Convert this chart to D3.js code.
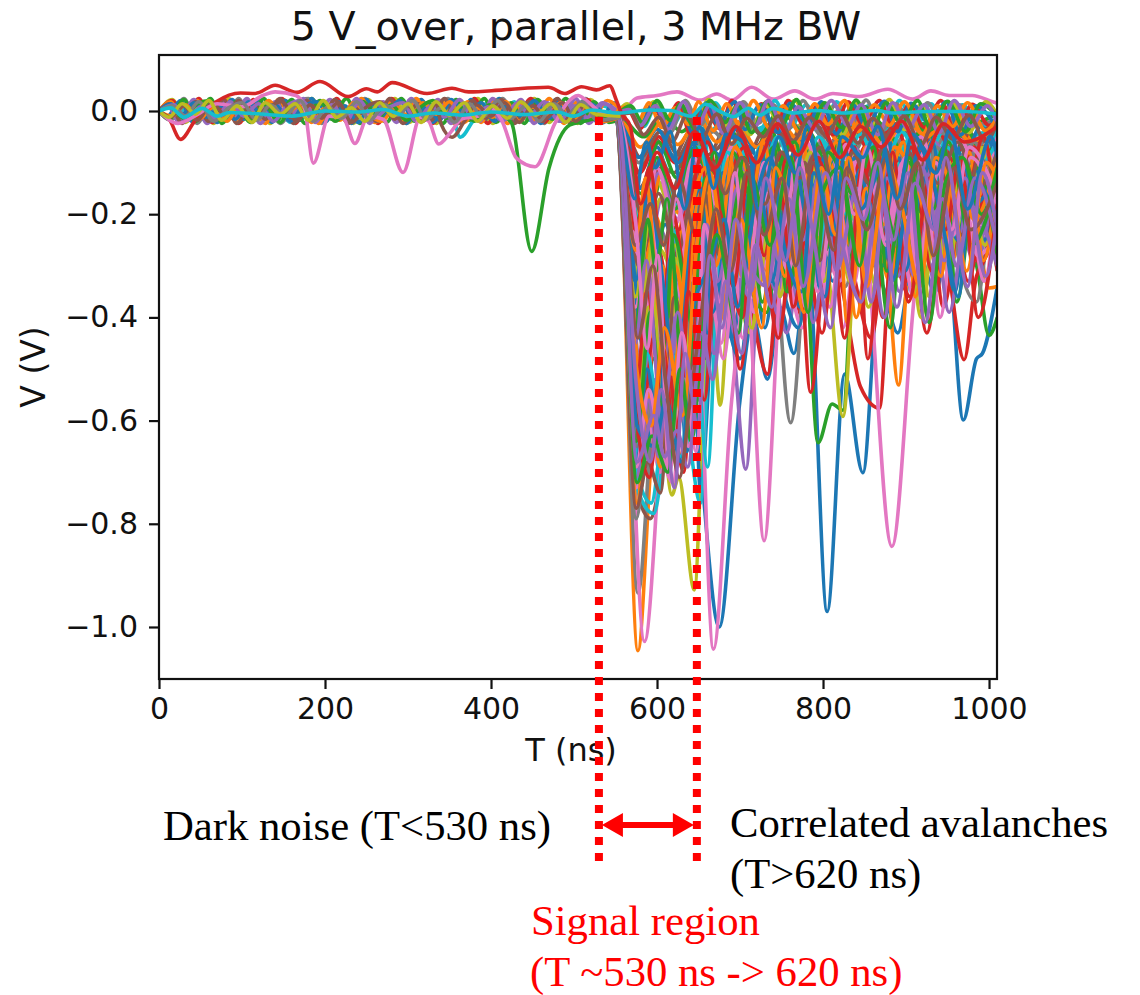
<!DOCTYPE html>
<html><head><meta charset="utf-8">
<script src="https://cdn.jsdelivr.net/npm/d3@7"></script>
<style>html,body{margin:0;background:#fff}svg{display:block}</style></head>
<body><div id="chart"></div>
<script>
// Every trace is a flat list of read-off turning points: T (ns), V (mV)
const xTicks=[0,200,400,600,800,1000];
const yTicks=[0,-0.2,-0.4,-0.6,-0.8,-1.0];
const markers=[530,648];

const blue=[
[0,0,14,14,28,-6,42,16,58,-12,74,10,92,-16,108,18,124,-8,140,12,158,-20,172,6,190,18,206,-14,224,10,240,-22,256,14,272,-6,290,20,306,-12,322,8,338,-18,352,22,370,-8,388,16,404,-20,420,12,436,-10,452,20,470,-14,488,10,504,-22,520,14,540,-10,556,-14],
[545,-8,552,-15,580,-600,598,-430,614,-705,632,-360,650,-640,675,-1000,700,-560,716,-400,733,-520,748,-380,765,-470,782,-300,805,-970,826,-510,848,-701,868,-330,890,-430,912,-260,935,-350,950,-280,969,-599,985,-480,992,-470,1010,-340],
[545,-6,552,-12,577,-720,600,-520,622,-350,636,-660,645,-500,652,-730,672,-330,690,-440,712,-260,730,-420,750,-210,772,-380,790,-180,812,-330,835,-150,855,-300,880,-130,905,-340,925,-180,948,-280,975,-120,995,-250,1010,-150],
[545,-9,554,-14,582,-380,605,-240,628,-330,650,-130,668,-260,690,-110,708,-300,728,-150,745,-280,768,-100,790,-240,815,-90,838,-280,860,-120,880,-210,905,-80,928,-230,950,-100,972,-200,990,-70,1010,-160],
[545,-7,556,-12,580,-150,600,-70,622,-170,645,-60,665,-190,690,-50,712,-160,735,-60,755,-170,780,-40,802,-130,825,-50,850,-170,875,-40,895,-120,920,-40,945,-140,970,-30,990,-130,1010,-60],
[545,-8,554,-10,584,-460,610,-220,632,-400,655,-200,676,-340,700,-480,722,-190,745,-310,770,-420,795,-170,820,-290,845,-120,868,-260,892,-90,915,-280,940,-110,962,-250,985,-90,1010,-220],
[545,-5,554,-10,578,-90,600,-35,625,-100,650,-30,675,-85,700,-25,722,-90,745,-25,770,-80,795,-20,820,-95,845,-30,870,-75,895,-20,920,-85,945,-25,970,-90,990,-30,1010,-100],
[0,0,10,-10,26,20,40,-20,56,18,70,-22,88,22,102,-16,120,22,136,-22,152,20,170,-18,184,24,200,-22,216,18,232,-24,250,22,264,-20,282,16,298,-24,316,22,330,-22,346,18,360,-24,376,22,392,-16,410,24,426,-22,444,16,460,-24,478,22,494,-20,512,20,530,-24,548,16,562,-16],
[552,-4,566,6,582,-22,596,14,612,-30,630,10,642,-40,660,16,674,-28,694,18,706,-36,724,12,746,-42,760,15,782,-25,798,18,816,-44,836,12,852,-30,874,19,890,-40,906,15,930,-28,948,18,966,-46,984,10,1010,-35],
[546,-6,551,-14,575,-690,588,-500,601,-610,617,-280,627,-410,646,-170,661,-430,679,-120,699,-210,726,-70,738,-330,762,-110,783,-160,809,-70,821,-230,847,-110,872,-300,889,-90,917,-190,931,-60,959,-350,977,-100,1010,-260],
[546,-5,551,-12,574,-330,590,-150,603,-280,624,-520,640,-220,652,-150,667,-390,693,-130,709,-220,718,-90,743,-340,765,-80,777,-190,802,-360,818,-130,843,-90,859,-220,878,-60,899,-310,922,-130,938,-240,966,-70,982,-180,1010,-120],
[546,-6,552,-11,576,-610,597,-650,611,-560,629,-680,643,-390,663,-300,681,-210,697,-380,719,-170,737,-90,753,-260,774,-350,789,-120,811,-240,827,-80,846,-190,871,-110,883,-330,906,-120,919,-70,944,-220,963,-360,979,-130,1010,-210],
[546,-7,553,-12,573,-170,587,-60,598,-110,616,-40,633,-190,651,-30,668,-150,683,-45,710,-70,722,-190,747,-50,767,-120,781,-30,807,-200,823,-50,848,-90,866,-30,889,-170,908,-45,936,-120,953,-35,974,-190,1002,-50,1010,-90]
];
const orange=[
[0,0,16,-10,32,12,48,-16,66,8,82,-20,98,14,116,-6,132,20,150,-12,168,10,184,-22,200,6,218,-18,234,16,250,-4,268,-20,286,8,302,-14,318,16,334,-6,350,18,368,-22,384,6,402,-12,418,18,434,-20,450,8,468,-8,484,16,500,-18,518,6,536,-20,556,-12],
[545,-10,552,-16,577,-1046,592,-700,604,-480,618,-610,632,-300,650,-430,670,-220,690,-340,712,-150,735,-300,760,-120,780,-250,805,-100,825,-190,850,-80,875,-250,891,-531,905,-240,930,-130,955,-290,978,-160,1000,-343,1010,-340],
[545,-6,552,-10,580,-680,598,-420,616,-620,636,-240,655,-360,675,-140,697,-260,718,-100,742,-230,765,-90,788,-215,810,-60,835,-190,858,-60,880,-170,905,-50,928,-200,952,-60,975,-160,1000,-30,1010,-70],
[545,-8,554,-14,578,-420,596,-200,620,-300,640,-110,664,-210,686,-70,708,-180,730,-60,752,-150,775,-70,800,-230,820,-100,840,-400,860,-200,880,-330,900,-120,925,-260,950,-100,970,-210,990,-70,1010,-200],
[545,-7,556,-10,584,-240,606,-120,628,-200,648,-70,670,-170,692,-60,718,-220,740,-70,762,-190,785,-50,810,-140,832,-60,855,-150,880,-50,905,-130,925,-40,950,-110,975,-50,1000,-150,1010,-120],
[545,-8,552,-12,582,-530,606,-300,630,-480,650,-260,675,-410,698,-200,720,-350,745,-170,768,-300,790,-130,812,-270,835,-90,860,-250,885,-80,908,-190,930,-60,955,-200,980,-70,1010,-190],
[545,-5,554,-8,580,-70,604,-25,625,-65,650,-15,672,-60,696,-20,720,-70,745,-15,770,-55,795,-10,820,-60,848,-15,872,-65,900,-20,925,-50,950,-12,978,-60,1010,-25],
[0,0,14,18,28,-20,46,20,60,-16,78,24,94,-22,110,14,128,-24,144,22,160,-14,178,20,192,-24,210,18,226,-20,244,24,260,-22,276,16,292,-20,310,24,324,-16,340,20,356,-24,372,18,388,-22,404,22,420,-24,438,14,454,-20,470,24,488,-24,504,18,522,-16,540,20,562,-14],
[550,-3,562,8,578,-18,590,16,606,-32,622,6,638,-26,650,18,668,-38,684,14,700,-30,716,20,736,-34,752,10,772,-42,790,14,806,-26,826,20,842,-40,862,12,880,-28,898,18,920,-44,938,10,956,-30,974,16,996,-38,1010,-12],
[546,-7,551,-13,576,-760,590,-540,604,-690,622,-300,634,-380,652,-140,666,-240,688,-90,702,-320,731,-130,744,-190,771,-60,786,-280,808,-100,833,-260,851,-70,868,-190,897,-60,911,-360,934,-140,951,-220,976,-80,993,-290,1010,-150],
[546,-5,551,-11,575,-270,586,-130,602,-390,619,-510,638,-230,659,-110,671,-300,694,-70,717,-140,728,-60,754,-320,772,-110,795,-170,816,-60,829,-410,852,-150,873,-220,886,-70,914,-150,942,-320,958,-100,982,-210,1010,-90],
[546,-6,552,-12,574,-480,593,-610,609,-420,631,-590,648,-260,664,-120,685,-310,701,-210,726,-420,743,-110,759,-200,777,-390,798,-110,815,-240,831,-90,853,-340,877,-100,894,-180,917,-340,936,-90,957,-170,973,-310,997,-100,1010,-130]
];
const green=[
[0,0,12,8,30,-14,46,14,62,20,78,-6,94,12,110,-16,128,10,146,-22,162,16,178,-8,196,14,212,-20,230,6,246,18,264,-12,280,12,298,-18,314,6,330,20,346,-14,364,8,380,-20,398,12,412,-6,425,-24,449,-272,470,-110,495,-27,512,-20,530,-14,556,-12],
[545,-9,552,-14,577,-760,596,-480,612,-640,630,-330,648,-500,668,-250,688,-380,708,-170,732,-300,755,-130,778,-260,794,-643,811,-568,824,-580,840,-200,862,-300,885,-120,910,-260,935,-110,958,-220,985,-300,1000,-435,1010,-400],
[545,-6,554,-10,582,-310,604,-140,626,-250,650,-90,672,-200,694,-80,716,-240,738,-90,760,-210,784,-70,808,-180,830,-60,852,-230,876,-80,898,-180,920,-70,944,-210,968,-70,990,-150,1010,-60],
[545,-7,552,-12,579,-560,600,-330,622,-470,644,-210,664,-360,688,-180,708,-320,732,-390,752,-170,775,-320,798,-120,822,-260,844,-100,866,-280,890,-110,912,-300,935,-120,960,-250,985,-110,1010,-240],
[545,-8,556,-12,580,-160,602,-60,624,-130,646,-40,668,-120,690,-40,712,-110,735,-30,760,-130,782,-40,805,-100,828,-30,852,-120,875,-35,900,-90,922,-25,948,-110,972,-35,995,-90,1010,-40],
[545,-5,554,-9,578,-215,600,-90,622,-190,646,-70,670,-240,692,-90,714,-300,735,-120,758,-350,780,-140,803,-270,825,-100,848,-210,872,-80,895,-160,918,-60,940,-180,965,-65,988,-140,1010,-90],
[545,-6,554,-8,584,-50,606,-10,630,-40,655,5,678,-35,702,0,725,-45,748,3,775,-40,800,0,825,-30,850,8,875,-30,900,2,925,-40,950,6,975,-25,1010,-5],
[0,0,12,-16,30,22,44,-20,62,24,76,-24,92,18,110,-22,126,24,142,-18,160,22,176,-24,194,20,208,-16,226,24,242,-24,258,14,274,-22,292,24,308,-20,324,16,342,-24,358,22,374,-18,392,24,406,-22,424,16,440,-24,456,22,474,-16,490,24,508,-24,524,18,542,-22,562,-12],
[552,-6,568,10,584,-26,600,20,616,-18,628,14,646,-36,664,20,682,-22,698,12,714,-42,732,18,750,-28,768,22,784,-38,802,16,822,-32,840,21,858,-44,876,16,894,-24,914,20,930,-36,950,19,972,-40,990,14,1010,-10],
[546,-6,551,-12,575,-640,592,-390,606,-570,620,-240,644,-420,658,-130,678,-290,691,-80,715,-170,741,-70,756,-350,777,-100,792,-180,819,-60,838,-300,854,-90,881,-420,899,-120,921,-200,946,-70,961,-370,985,-110,1010,-280],
[546,-5,551,-10,574,-420,589,-210,599,-310,612,-170,633,-540,656,-180,669,-80,686,-250,705,-90,727,-370,749,-100,766,-60,793,-290,806,-80,836,-160,861,-70,877,-310,903,-100,933,-190,951,-60,979,-260,1010,-130],
[546,-6,552,-13,576,-720,594,-630,613,-700,628,-500,641,-640,659,-340,672,-240,698,-430,714,-130,736,-260,761,-90,782,-390,797,-170,820,-110,844,-300,863,-100,887,-240,904,-90,928,-410,947,-140,968,-90,991,-200,1010,-110]
];
const red=[
[0,0,12,-15,26,-55,43,-20,69,18,98,35,116,34,140,50,166,36,194,57,228,28,250,43,263,37,281,55,323,34,353,44,373,37,415,41,469,46,489,34,509,47,527,41,543,49,551,21,557,-4,568,-30,580,-180,600,-80,622,-150,645,-40,670,-110,695,-30,720,-100,745,-25,770,-85,795,-20,820,-90,845,-30,870,-70,895,-20,920,-95,945,-25,970,-60,1010,-30],
[545,-8,552,-14,580,-640,600,-420,618,-560,632,-700,648,-330,668,-460,690,-240,712,-370,733,-510,752,-220,775,-400,800,-180,825,-360,845,-534,868,-576,882,-280,905,-360,925,-180,950,-300,970,-482,985,-320,1010,-260],
[545,-6,554,-12,578,-470,600,-260,620,-400,642,-190,664,-320,686,-150,706,-280,725,-210,748,-360,770,-140,790,-320,812,-110,835,-300,858,-440,880,-190,900,-330,925,-130,945,-380,968,-180,990,-300,1010,-140],
[545,-7,552,-11,582,-280,604,-110,626,-230,650,-80,672,-260,694,-70,716,-190,738,-60,762,-240,784,-330,806,-90,828,-220,850,-70,872,-400,892,-130,915,-220,940,-80,962,-210,985,-60,1010,-200],
[545,-9,556,-12,579,-120,602,-50,622,-100,648,-35,668,-115,692,-30,716,-105,740,-30,762,-95,788,-25,812,-110,836,-30,860,-90,885,-25,910,-100,935,-30,958,-85,985,-20,1010,-75],
[545,-6,554,-10,576,-700,596,-440,614,-590,640,-280,660,-430,682,-220,700,-500,722,-200,746,-440,768,-180,785,-545,810,-150,834,-330,858,-100,880,-290,900,-120,925,-430,950,-150,975,-330,1000,-120,1010,-170],
[0,0,16,20,32,-18,48,24,64,-22,80,16,96,-24,114,22,130,-14,148,24,164,-24,180,14,198,-20,214,24,230,-18,248,20,264,-24,280,24,296,-16,314,20,330,-24,346,16,364,-20,380,24,396,-24,414,20,430,-14,448,24,464,-22,482,16,498,-24,516,22,532,-16,550,-8,562,-14],
[552,-8,564,4,580,-34,594,12,610,-24,626,16,640,-44,656,8,676,-34,690,20,708,-26,726,14,742,-40,758,20,778,-30,794,12,812,-46,830,18,848,-26,868,20,886,-38,904,12,922,-32,942,20,960,-42,980,13,1000,-28,1010,-16],
[546,-6,551,-12,575,-540,588,-350,603,-480,619,-200,637,-340,654,-110,672,-400,689,-130,706,-70,733,-190,751,-80,778,-310,794,-90,817,-170,838,-70,854,-480,874,-140,897,-90,912,-250,938,-90,957,-170,982,-70,1010,-310],
[546,-5,551,-11,574,-230,591,-110,607,-350,626,-610,644,-150,661,-60,679,-220,703,-400,719,-100,739,-260,759,-60,773,-140,799,-430,821,-100,842,-180,863,-70,888,-240,906,-70,931,-310,952,-90,973,-160,993,-50,1010,-230],
[546,-6,552,-12,575,-590,591,-710,607,-460,622,-650,638,-350,657,-560,674,-190,692,-340,711,-110,729,-280,748,-130,764,-380,791,-90,809,-170,826,-440,847,-110,869,-210,884,-80,903,-370,929,-130,948,-230,965,-90,987,-400,1010,-180]
];
const purple=[
[0,0,18,12,34,-18,50,8,68,-14,86,18,102,-10,120,14,138,-20,154,10,172,20,190,-12,208,12,226,-18,242,20,258,-14,276,6,294,16,310,-20,328,10,344,-12,362,22,378,-14,396,8,414,-20,430,14,448,-6,464,18,482,-20,500,10,516,-12,534,16,556,-16],
[545,-8,552,-12,578,-690,598,-520,616,-640,634,-430,650,-560,670,-300,690,-420,707,-694,725,-280,748,-400,770,-250,795,-380,818,-210,842,-360,865,-200,890,-320,912,-170,935,-330,958,-170,982,-290,1010,-150],
[545,-6,554,-10,582,-520,602,-340,624,-500,644,-320,666,-380,688,-250,710,-400,732,-240,756,-430,778,-220,800,-350,824,-200,846,-290,870,-180,892,-350,915,-190,938,-280,962,-150,985,-260,1010,-110],
[545,-7,552,-10,580,-400,604,-230,626,-350,648,-200,670,-300,692,-170,716,-320,738,-180,760,-290,782,-150,805,-310,828,-170,850,-270,875,-140,898,-290,920,-150,944,-240,968,-130,992,-220,1010,-130],
[545,-9,556,-12,584,-330,606,-170,630,-290,652,-130,675,-250,698,-110,722,-240,744,-120,766,-290,790,-130,812,-230,836,-110,860,-220,882,-100,905,-210,930,-100,952,-200,978,-90,1000,-180,1010,-90],
[545,-5,554,-8,577,-600,595,-400,612,-520,632,-340,655,-480,678,-260,700,-390,722,-220,744,-350,768,-200,792,-320,815,-180,838,-310,862,-160,886,-260,908,-140,930,-300,955,-140,978,-240,1010,-170],
[545,-6,554,-9,580,-250,602,-120,625,-210,648,-100,670,-180,694,-80,718,-170,742,-90,765,-190,790,-80,814,-160,838,-70,862,-180,886,-70,910,-150,935,-60,960,-170,985,-70,1010,-120],
[0,0,10,12,24,-22,42,22,58,-24,74,20,90,-16,106,24,122,-24,140,18,156,-18,174,24,188,-22,206,22,222,-14,238,24,254,-24,270,18,286,-22,304,24,320,-18,336,22,352,-24,370,14,386,-20,402,24,418,-16,436,22,452,-24,468,16,484,-20,502,24,518,-24,536,14,562,-18],
[552,-5,566,3,580,-28,598,10,614,-36,632,18,648,-30,664,12,680,-44,700,16,718,-30,734,20,754,-40,770,8,790,-34,810,20,830,-28,846,12,866,-46,884,16,902,-34,922,12,940,-42,958,20,978,-30,998,10,1010,-25],
[546,-6,551,-13,575,-710,590,-560,602,-670,618,-400,635,-600,650,-240,669,-470,684,-190,711,-360,729,-150,747,-290,773,-130,788,-410,811,-170,829,-280,849,-130,874,-400,891,-190,910,-320,928,-120,952,-390,975,-180,1010,-300],
[546,-5,551,-12,574,-450,587,-290,606,-600,625,-390,641,-550,660,-220,673,-330,697,-150,707,-280,733,-340,752,-140,776,-250,798,-110,816,-310,841,-150,858,-370,877,-130,901,-240,919,-110,946,-290,971,-130,996,-320,1010,-210],
[546,-6,552,-12,576,-680,596,-590,609,-670,624,-620,637,-690,654,-430,667,-520,683,-330,702,-470,719,-260,738,-380,759,-170,776,-340,803,-120,819,-230,846,-370,868,-140,885,-250,902,-120,923,-410,944,-170,961,-300,983,-130,1010,-260],
[546,-7,553,-11,575,-530,592,-680,605,-540,621,-730,634,-470,649,-610,664,-280,678,-420,695,-210,713,-350,731,-130,755,-290,772,-110,787,-230,809,-420,828,-130,849,-210,866,-100,889,-380,911,-140,934,-230,948,-90,974,-340,992,-120,1010,-230]
];
const brown=[
[0,0,14,-12,30,10,46,-18,64,16,80,-8,96,20,114,-14,130,6,148,18,166,-20,182,12,198,-10,216,16,232,-22,250,8,266,18,284,-16,300,10,318,-20,334,14,340,-26,353,-51,368,-20,382,12,400,-10,416,16,434,-22,450,10,466,-14,486,16,502,-20,520,8,538,-18,556,-10],
[545,-8,552,-14,578,-150,600,-100,620,-120,645,-60,668,-100,690,-50,712,-115,735,-55,758,-95,780,-45,805,-105,828,-50,850,-90,875,-40,898,-110,920,-45,945,-100,968,-40,992,-110,1010,-60],
[545,-7,554,-12,580,-760,592,-790,606,-700,625,-540,640,-400,660,-480,680,-240,700,-370,722,-180,745,-290,768,-140,790,-250,815,-120,838,-230,860,-100,885,-200,908,-90,930,-170,955,-70,980,-190,1010,-110],
[545,-6,552,-10,576,-120,598,-55,618,-95,640,-40,662,-85,684,-30,708,-90,730,-35,752,-85,776,-30,800,-80,825,-35,848,-85,872,-30,896,-70,920,-25,945,-85,970,-30,992,-70,1010,-35],
[545,-9,556,-12,580,-90,604,-40,626,-85,648,-30,670,-75,694,-25,718,-70,742,-30,766,-80,790,-25,815,-70,840,-25,865,-75,888,-25,912,-65,936,-25,960,-70,985,-22,1010,-60],
[545,-5,554,-10,582,-200,604,-95,628,-180,650,-120,674,-190,696,-90,720,-210,742,-100,766,-180,790,-85,812,-170,838,-90,860,-190,882,-80,906,-160,930,-70,955,-175,980,-80,1010,-170],
[545,-7,554,-9,578,-300,602,-160,624,-280,646,-140,670,-250,692,-120,716,-220,740,-100,764,-240,786,-110,810,-200,834,-90,856,-210,880,-80,904,-170,928,-70,950,-190,976,-70,1010,-130],
[0,0,12,14,28,-24,44,18,60,-20,78,22,94,-24,112,16,128,-16,146,24,162,-24,178,20,196,-14,212,22,228,-24,246,18,262,-20,278,24,294,-24,312,14,328,-18,344,24,360,-24,378,20,394,-14,412,22,428,-24,446,18,462,-20,480,24,496,-24,514,14,530,-20,550,-12,562,-16],
[552,-10,568,-4,584,-46,602,-12,618,-60,636,-8,654,-52,672,-6,690,-64,708,-14,728,-50,746,-10,764,-58,784,-12,804,-48,822,-6,842,-62,860,-14,878,-50,898,-10,918,-66,936,-12,956,-54,976,-8,996,-60,1010,-20],
[546,-6,551,-13,575,-770,589,-680,604,-740,621,-360,640,-500,655,-150,676,-280,690,-130,714,-220,735,-110,752,-190,778,-100,796,-290,817,-120,839,-200,866,-90,881,-230,903,-80,926,-170,943,-90,967,-240,988,-90,1010,-200],
[546,-5,551,-10,574,-260,592,-180,608,-260,626,-130,647,-240,667,-100,682,-160,702,-90,730,-180,749,-80,771,-130,797,-70,819,-190,836,-80,855,-140,873,-70,900,-200,917,-70,938,-140,962,-60,987,-150,1010,-80],
[546,-6,552,-11,577,-440,595,-300,610,-520,627,-710,640,-560,656,-360,671,-190,689,-310,708,-120,729,-240,751,-130,767,-300,788,-100,813,-270,829,-110,853,-230,877,-90,893,-190,914,-100,933,-280,958,-110,978,-230,1010,-140]
];
const pink=[
[0,0,23,-24,45,-8,70,14,100,8,125,30,140,37,165,30,175,8,186,-101,205,-10,222,-14,236,-63,252,-10,270,-16,294,-119,315,-12,325,-20,337,-64,352,-40,365,-15,385,-10,400,5,412,-15,431,-92,453,-108,477,-24,490,12,505,30,515,20,535,-6,552,-12],
[548,-5,560,2,576,25,600,30,624,37,652,21,672,33,690,21,714,46,740,23,766,39,790,23,812,34,844,28,878,42,908,23,930,39,952,30,980,30,1004,18,1010,15],
[545,-10,552,-16,585,-1028,606,-620,625,-380,640,-480,660,-180,680,-300,700,-150,722,-260,745,-110,768,-240,790,-100,812,-220,835,-90,860,-280,880,-120,905,-240,930,-100,955,-200,980,-70,1010,-170],
[545,-8,552,-13,580,-620,600,-400,620,-560,640,-200,656,-78,670,-180,700,-320,718,-200,729,-230,745,-90,770,-260,800,-46,827,-92,863,-21,883,-53,900,-14,937,-105,962,-30,1010,-20],
[545,-6,552,-12,582,-580,605,-300,625,-460,645,-250,668,-1043,690,-560,708,-350,729,-833,752,-300,775,-420,795,-230,820,-330,845,-180,883,-844,912,-330,935,-190,960,-300,985,-130,1010,-200],
[545,-7,554,-10,577,-500,598,-270,618,-420,640,-180,665,-320,690,-130,715,-280,738,-120,762,-300,785,-130,808,-380,830,-140,852,-310,875,-110,898,-250,920,-90,945,-290,968,-120,990,-220,1010,-90],
[545,-9,552,-14,578,-280,600,-110,622,-220,644,-90,668,-180,690,-70,712,-240,735,-80,758,-200,780,-60,805,-170,828,-65,850,-200,872,-60,895,-140,918,-50,942,-160,965,-55,990,-130,1010,-50],
[546,-6,551,-12,575,-730,589,-600,604,-700,620,-380,638,-650,652,-280,672,-400,688,-180,703,-440,727,-160,748,-360,766,-120,781,-270,806,-110,824,-420,848,-140,862,-290,884,-100,909,-360,926,-130,949,-220,969,-90,994,-330,1010,-150],
[546,-5,551,-10,574,-380,592,-200,606,-440,623,-170,644,-330,663,-120,677,-450,699,-110,713,-200,740,-320,757,-90,779,-380,801,-120,819,-210,843,-90,859,-360,881,-110,904,-210,921,-80,941,-400,964,-100,986,-280,1010,-240],
[546,-6,552,-12,575,-690,590,-540,603,-640,619,-720,633,-520,647,-660,662,-330,680,-480,698,-230,717,-390,733,-160,758,-310,779,-140,793,-240,811,-90,836,-340,857,-130,873,-250,896,-100,918,-300,939,-120,957,-240,978,-90,1010,-190],
[546,-7,553,-11,574,-210,588,-460,601,-280,615,-700,630,-430,645,-590,657,-220,676,-370,694,-120,708,-330,729,-100,750,-230,772,-90,794,-350,817,-110,838,-200,853,-70,876,-260,899,-90,913,-320,936,-100,955,-230,976,-70,1010,-170]
];
const gray=[
[0,0,16,10,32,-10,48,18,66,-20,84,6,100,16,118,-18,134,12,152,-10,170,20,186,-20,204,8,220,-14,238,18,254,-18,272,12,288,-8,306,20,322,-16,340,6,356,-22,374,14,390,-12,408,20,424,-14,442,10,458,-20,476,14,492,-8,510,18,528,-18,556,-12],
[545,-8,552,-14,577,-934,596,-560,612,-460,628,-560,648,-260,668,-370,690,-200,712,-310,735,-170,761,-604,785,-210,805,-320,830,-150,852,-260,876,-120,900,-250,925,-100,945,-70,965,-300,985,-370,1000,-250,1010,-310],
[545,-6,554,-11,580,-300,602,-120,625,-260,648,-100,672,-220,695,-90,718,-190,742,-80,765,-170,788,-70,812,-230,835,-80,858,-160,880,-60,905,-170,928,-55,950,-25,970,-150,992,-90,1010,-190],
[545,-7,554,-10,578,-100,600,-60,624,-90,646,-70,668,-40,692,-85,716,-30,740,-80,764,-25,788,-75,812,-30,836,-80,860,-25,884,-70,908,-25,932,-75,956,-30,980,-70,1010,-30],
[545,-8,556,-12,584,-430,606,-240,630,-370,652,-200,676,-320,698,-150,720,-290,742,-130,768,-320,790,-140,812,-260,836,-120,860,-240,884,-100,908,-220,932,-100,956,-210,980,-90,1010,-210],
[0,0,14,-18,30,24,46,-24,62,16,80,-20,96,24,112,-22,130,18,146,-24,164,14,180,24,196,-24,214,16,230,-22,248,24,264,-16,282,22,298,-24,314,20,330,-18,348,24,364,-24,380,12,398,-22,414,24,430,-20,448,18,464,-24,480,22,498,-18,514,24,532,-24,550,-10,562,-14],
[552,-4,566,12,582,-24,600,8,616,-42,634,20,652,-28,668,14,686,-40,704,18,722,-24,740,12,758,-36,776,20,796,-44,814,10,834,-24,852,21,870,-42,888,14,908,-30,926,16,946,-44,964,12,984,-26,1010,-18],
[546,-6,551,-13,575,-790,588,-620,603,-500,617,-330,636,-440,649,-170,670,-250,693,-90,707,-180,731,-70,746,-240,768,-90,792,-130,813,-60,827,-340,851,-110,869,-180,893,-70,913,-280,936,-70,964,-160,981,-60,1010,-170],
[546,-6,552,-12,576,-650,593,-560,608,-640,626,-470,639,-610,658,-300,673,-410,691,-170,712,-250,727,-110,749,-320,768,-120,786,-200,805,-90,831,-260,853,-100,871,-170,892,-80,915,-260,933,-100,952,-170,971,-80,1010,-120]
];
const olive=[
[0,0,12,-12,28,14,44,-6,60,20,76,-18,94,10,112,-22,128,16,146,-6,164,14,180,-18,198,20,214,-12,232,6,248,-20,266,16,282,-10,300,14,316,-22,334,18,350,-8,368,16,384,-20,402,10,420,-14,436,18,454,-8,472,14,490,-22,508,12,526,-6,556,-10],
[545,-8,552,-14,578,-480,596,-330,606,-560,618,-744,626,-710,645,-928,656,-580,666,-400,676,-570,690,-300,712,-430,735,-210,758,-330,780,-170,806,-310,824,-592,842,-230,865,-340,888,-130,912,-260,935,-100,960,-240,985,-80,1010,-200],
[545,-6,554,-12,580,-580,600,-265,612,-290,625,-430,645,-180,665,-290,688,-120,710,-230,732,-70,752,-230,770,-30,804,-1,830,-53,850,-40,872,-60,895,-35,920,-90,945,-50,975,-100,1010,-60],
[545,-7,552,-10,578,-250,598,-130,620,-200,640,-100,664,-160,690,-80,716,-290,738,-100,758,-220,782,-70,806,-170,830,-65,852,-170,878,-60,905,-300,930,-90,955,-170,978,-70,1000,-150,1010,-70],
[545,-9,556,-12,582,-350,604,-170,626,-300,648,-110,672,-250,694,-120,714,-420,736,-170,760,-260,784,-130,808,-240,830,-120,855,-380,880,-140,902,-240,925,-110,950,-310,972,-110,995,-260,1010,-170],
[0,0,16,22,32,-22,50,14,66,-24,84,24,100,-18,116,20,134,-24,150,22,168,-14,184,24,200,-20,218,18,234,-24,252,22,268,-14,284,24,302,-22,318,18,334,-24,352,20,368,-16,384,24,402,-24,418,14,436,-20,452,24,470,-22,486,16,504,-24,520,22,538,-14,562,-16],
[552,-6,564,14,580,-20,596,18,612,-34,630,12,646,-22,662,22,680,-30,696,10,712,-46,730,14,748,-24,766,20,786,-36,804,14,824,-46,842,16,860,-26,880,22,898,-36,916,10,938,-30,956,16,976,-42,996,18,1010,-8],
[546,-6,551,-12,575,-600,590,-380,606,-520,622,-260,640,-470,656,-150,674,-360,692,-110,710,-240,736,-80,748,-360,772,-110,791,-190,811,-80,832,-330,856,-110,871,-200,896,-70,918,-400,941,-100,963,-180,989,-70,1010,-280],
[546,-6,552,-11,574,-360,591,-220,607,-590,623,-360,636,-480,653,-210,669,-130,687,-290,704,-120,721,-340,744,-100,762,-200,785,-80,801,-330,826,-100,847,-290,864,-80,886,-230,909,-110,928,-360,949,-90,969,-190,994,-70,1010,-150]
];
const cyan=[
[0,0,14,6,30,-12,52,5,70,-10,85,-3,115,-5,160,-10,200,0,240,-2,270,3,300,-10,330,-4,365,-8,400,-2,440,-7,480,-2,499,-10,521,2,553,-4,590,2,616,1,641,-10,658,13,676,-1,692,-11,710,5,724,-8,740,5,764,-4,792,1,824,-4,864,1,884,-4,924,-1,972,-1,1004,-5,1010,-6],
[0,0,18,-14,34,8,52,-16,70,14,90,-10,106,18,124,-14,142,8,158,-22,176,14,194,-8,212,16,230,-20,246,8,262,-14,280,20,298,-8,314,14,332,-22,350,8,363,-51,378,-20,394,14,410,-10,428,18,446,-18,462,8,480,-14,498,16,516,-20,534,10,556,-10],
[545,-8,552,-12,578,-740,596,-780,610,-640,628,-420,646,-560,662,-43,687,-24,716,-37,736,-27,760,-60,785,-30,810,-70,835,-25,860,-60,885,-25,915,-50,940,-20,970,-50,1010,-30],
[545,-6,554,-10,582,-560,602,-300,622,-460,640,-650,652,-760,668,-280,690,-360,712,-180,735,-300,758,-120,782,-240,805,-90,828,-200,852,-80,875,-170,900,-60,925,-160,950,-50,975,-130,1010,-60],
[545,-7,554,-10,580,-220,604,-90,628,-190,650,-70,672,-170,696,-60,720,-160,745,-50,770,-150,795,-50,820,-130,845,-45,870,-120,895,-40,920,-115,945,-40,972,-110,1010,-40],
[552,-8,566,6,584,-30,600,14,618,-28,636,8,652,-42,670,16,688,-26,704,12,724,-38,742,20,760,-32,780,12,798,-44,816,18,836,-26,854,10,874,-36,892,20,912,-30,930,14,950,-38,968,12,990,-30,1010,-14],
[546,-6,551,-12,575,-660,588,-470,605,-610,619,-230,634,-350,651,-120,664,-280,685,-80,707,-170,724,-70,751,-200,769,-70,794,-290,813,-80,831,-160,857,-60,872,-260,894,-70,916,-180,932,-60,958,-240,978,-70,1010,-150],
[546,-6,552,-12,576,-700,593,-760,611,-590,629,-670,644,-410,661,-690,674,-300,692,-170,711,-290,729,-100,753,-210,770,-80,792,-180,814,-70,837,-210,859,-70,881,-150,902,-60,924,-200,949,-70,973,-130,1010,-60]
];

const groups=[blue,orange,green,red,purple,brown,pink,gray,olive,cyan];
const rounds=d3.max(groups,g=>g.length);
// plotting cycle: later-listed traces go over earlier ones; each colour's first listed trace (its baseline) comes last
const order=[...d3.range(1,rounds),0];
const traces=[];
order.forEach(r=>groups.forEach((g,c)=>{if(r<g.length)traces.push({c,p:d3.pairs(g[r]).filter((_,i)=>i%2===0)});}));

const W=1140,H=995,L=159,R=997,T=55,B=679;
const x=d3.scaleLinear().domain([0,1009.6]).range([L,R]);
const y=d3.scaleLinear().domain([0.1085,-1.1008]).range([T,B]);
const svg=d3.select("#chart").append("svg").attr("width",W).attr("height",H).attr("viewBox",[0,0,W,H]);
const defs=svg.append("defs");
defs.append("clipPath").attr("id","plot").append("rect").attr("x",L).attr("y",T).attr("width",R-L).attr("height",B-T);
defs.append("filter").attr("id","soft").append("feGaussianBlur").attr("stdDeviation",0.5);

const line=d3.line().x(d=>x(d[0])).y(d=>y(d[1]/1000)).curve(d3.curveMonotoneX);
svg.append("g").attr("clip-path","url(#plot)").append("g").attr("filter","url(#soft)")
  .selectAll("path").data(traces).join("path")
  .attr("fill","none").attr("stroke",d=>d3.schemeCategory10[d.c]).attr("stroke-width",3.6)
  .attr("stroke-linejoin","round").attr("d",d=>line(d.p));

svg.append("rect").attr("x",L).attr("y",T).attr("width",R-L).attr("height",B-T)
  .attr("fill","none").attr("stroke","#111").attr("stroke-width",2.2);

const fmtY=d3.format(".1f");
const gx=svg.append("g").attr("transform",`translate(0,${B})`)
  .call(d3.axisBottom(x).tickValues(xTicks).tickSize(10).tickPadding(9).tickFormat(d3.format("d")));
const gy=svg.append("g").attr("transform",`translate(${L},0)`)
  .call(d3.axisLeft(y).tickValues(yTicks).tickSize(10).tickPadding(11).tickFormat(fmtY));
[gx,gy].forEach(g=>{
  g.select(".domain").remove();
  g.selectAll(".tick line").attr("stroke","#111").attr("stroke-width",2.2);
  g.selectAll("text").attr("fill","#111").style("font","30px 'DejaVu Sans'");
});
const sans=(s,px,py,size)=>svg.append("text").attr("x",px).attr("y",py).attr("text-anchor","middle").attr("fill","#111")
  .style("font",`${size}px 'DejaVu Sans'`).text(s);
sans("5 V_over, parallel, 3 MHz BW",576,40,39.6);
sans("T (ns)",571,761,32);
sans("V (V)",0,0,33).attr("transform","translate(45,367) rotate(-90)");

// annotation layer
markers.forEach(m=>svg.append("line").attr("x1",x(m)).attr("x2",x(m)).attr("y1",117).attr("y2",861)
  .attr("stroke","#f00").attr("stroke-width",8).attr("stroke-dasharray","8 8"));
const ay=825, ax0=x(markers[0])+3, ax1=x(markers[1])-3;
svg.append("line").attr("x1",ax0+15).attr("x2",ax1-15).attr("y1",ay).attr("y2",ay).attr("stroke","#f00").attr("stroke-width",6);
svg.append("path").attr("fill","#f00").attr("d",
  `M${ax0},${ay}l21,-12v24zM${ax1},${ay}l-21,-12v24z`);
const serif=(s,px,py,c)=>svg.append("text").attr("x",px).attr("y",py).attr("fill",c)
  .style("font","42.7px 'Liberation Serif'").text(s);
serif("Dark noise (T<530 ns)",163,840,"#000");
serif("Correlated avalanches",730,837,"#000");
serif("(T>620 ns)",730,888,"#000");
serif("Signal region",531,935,"#f00");
serif("(T ~530 ns -> 620 ns)",530,986,"#f00");
</script></body></html>
